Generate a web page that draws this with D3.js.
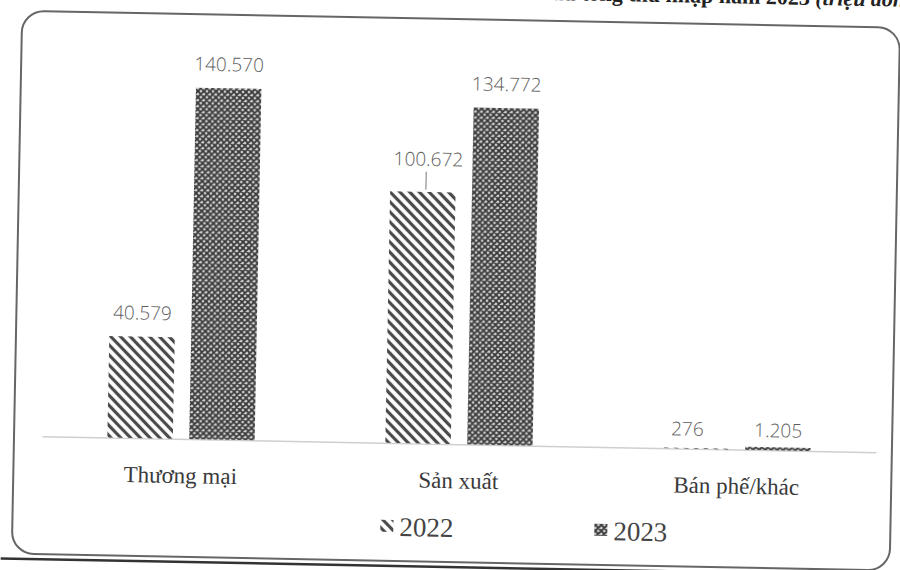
<!DOCTYPE html>
<html>
<head>
<meta charset="utf-8">
<script src="https://cdn.jsdelivr.net/npm/d3@7"></script>
<style>
  body { margin: 0; background: #fff; }
  .value { font-family: "Open Sans", sans-serif; font-size: 19px; font-weight: 300; fill: #5e5e5e; }
  .cat text { font-family: "Liberation Serif", serif; font-size: 23px; fill: #3a3a3a; }
  .legend { font-family: "Liberation Serif", serif; font-size: 27px; fill: #444; }
</style>
</head>
<body>
<svg id="chart" width="900" height="570"></svg>
<script>
// Data
var categories = ["Thương mại", "Sản xuất", "Bán phế/khác"]
var years = ["2022", "2023"]
var values2022 = [40579, 100672, 276]
var values2023 = [140570, 134772, 1205]
var titleText = "Biểu đồ: Cơ cấu tổng thu nhập năm 2023 "
var titleUnit = "(triệu đồng)"

// Vietnamese number format: 140.570
var vn = d3.formatLocale({ decimal: ",", thousands: ".", grouping: [3], currency: ["", " đ"] })
var fmt = vn.format(",d")

var svg = d3.select("#chart")

// Patterns for the two series
var defs = svg.append("defs")

var p22 = defs.append("pattern")
  .attr("id", "hatch2022")
  .attr("patternUnits", "userSpaceOnUse")
  .attr("width", 7).attr("height", 7)
  .attr("patternTransform", "rotate(45)")
p22.append("rect").attr("width", 7).attr("height", 7).attr("fill", "#fff")
p22.append("line")
  .attr("x1", 0).attr("y1", 3.5).attr("x2", 7).attr("y2", 3.5)
  .attr("stroke", "#4a4a4a").attr("stroke-width", 3.2)

var p23 = defs.append("pattern")
  .attr("id", "hatch2023")
  .attr("patternUnits", "userSpaceOnUse")
  .attr("width", 6).attr("height", 6)
p23.append("rect").attr("width", 6).attr("height", 6).attr("fill", "#d0d0d0")
p23.append("path")
  .attr("d", "M0,0L6,6M6,0L0,6M-1,5L1,7M5,-1L7,1M-1,1L1,-1M5,7L7,5")
  .attr("stroke", "#383838").attr("stroke-width", 1.8)

var fills = { "2022": "url(#hatch2022)", "2023": "url(#hatch2023)" }

// The scan is a little tilted, so everything sits in a rotated group
var g = svg.append("g").attr("transform", "rotate(1.1 450 285)")

// Frame round the chart
g.append("rect")
  .attr("x", 17).attr("y", 19)
  .attr("width", 878).attr("height", 543)
  .attr("rx", 22).attr("ry", 22)
  .attr("fill", "none")
  .attr("stroke", "#666")
  .attr("stroke-width", 2)

g.append("line")
  .attr("x1", 6).attr("x2", 882)
  .attr("y1", 567).attr("y2", 567)
  .attr("stroke", "#333")
  .attr("stroke-width", 2.5)

// Title, mostly cut off by the top edge
var title = g.append("text")
  .attr("x", 918).attr("y", -2)
  .attr("text-anchor", "end")
  .style("font-family", "Liberation Serif, serif")
  .style("font-size", "22px")
  .style("font-weight", "bold")
  .attr("fill", "#222")
title.append("tspan").text(titleText)
title.append("tspan").style("font-style", "italic").text(titleUnit)

// Scales
var x0 = d3.scaleBand()
  .domain(categories)
  .range([45, 879])
  .paddingInner(0.47)
  .paddingOuter(0.235)

var x1 = d3.scaleBand()
  .domain(years)
  .range([0, x0.bandwidth()])
  .paddingInner(0.2)

var y = d3.scaleLinear()
  .domain([0, 160000])
  .range([444, 44])

// Category axis: light baseline, no ticks
var axis = g.append("g")
  .attr("class", "cat")
  .attr("transform", "translate(0,444)")
  .call(d3.axisBottom(x0).tickSize(0).tickSizeOuter(0).tickPadding(35))
axis.select(".domain").attr("stroke", "#cfcfcf").attr("stroke-width", 1.5)
axis.selectAll(".tick text").attr("dy", "0.4em").style("font-size", null)
axis.attr("font-size", null).attr("font-family", null)

// Bars
var rows = categories.map(function(c, i) {
  return { cat: c, vals: [
    { year: "2022", v: values2022[i] },
    { year: "2023", v: values2023[i] }
  ] }
})

var groups = g.selectAll(".grp")
  .data(rows)
  .enter().append("g")
  .attr("class", "grp")
  .attr("transform", function(d) { return "translate(" + x0(d.cat) + ",0)" })

groups.selectAll("rect")
  .data(function(d) { return d.vals })
  .enter().append("rect")
  .attr("x", function(d) { return x1(d.year) })
  .attr("width", x1.bandwidth())
  .attr("y", function(d) { return y(d.v) })
  .attr("height", function(d) { return y(0) - y(d.v) })
  .attr("fill", function(d) { return fills[d.year] })

// Value labels; 100.672 is lifted with a leader line like in the original
groups.each(function(row) {
  var grp = d3.select(this)
  row.vals.forEach(function(d) {
    var cx = x1(d.year) + x1.bandwidth() / 2
    var ty = y(d.v) - 17
    var tx = cx
    if (d.v === 100672) {
      ty = y(d.v) - 26
      tx = cx + 5
      grp.append("line")
        .attr("x1", cx + 3).attr("x2", cx + 3)
        .attr("y1", ty + 6).attr("y2", y(d.v) - 2)
        .attr("stroke", "#777").attr("stroke-width", 1)
    }
    if (d.v < 2000) {
      ty = y(0) - 13
      tx = cx + (d.year === "2022" ? -9 : 0)
    }
    grp.append("text")
      .attr("class", "value")
      .attr("x", tx).attr("y", ty)
      .attr("text-anchor", "middle")
      .text(fmt(d.v))
  })
})

// Legend
var legend = g.append("g").attr("class", "legend")
var legendX = { "2022": 385, "2023": 599 }
years.forEach(function(yr) {
  legend.append("rect")
    .attr("x", legendX[yr]).attr("y", 521)
    .attr("width", 13).attr("height", 12)
    .attr("fill", fills[yr])
  legend.append("text")
    .attr("x", legendX[yr] + 19).attr("y", 537)
    .text(yr)
})
</script>
</body>
</html>
